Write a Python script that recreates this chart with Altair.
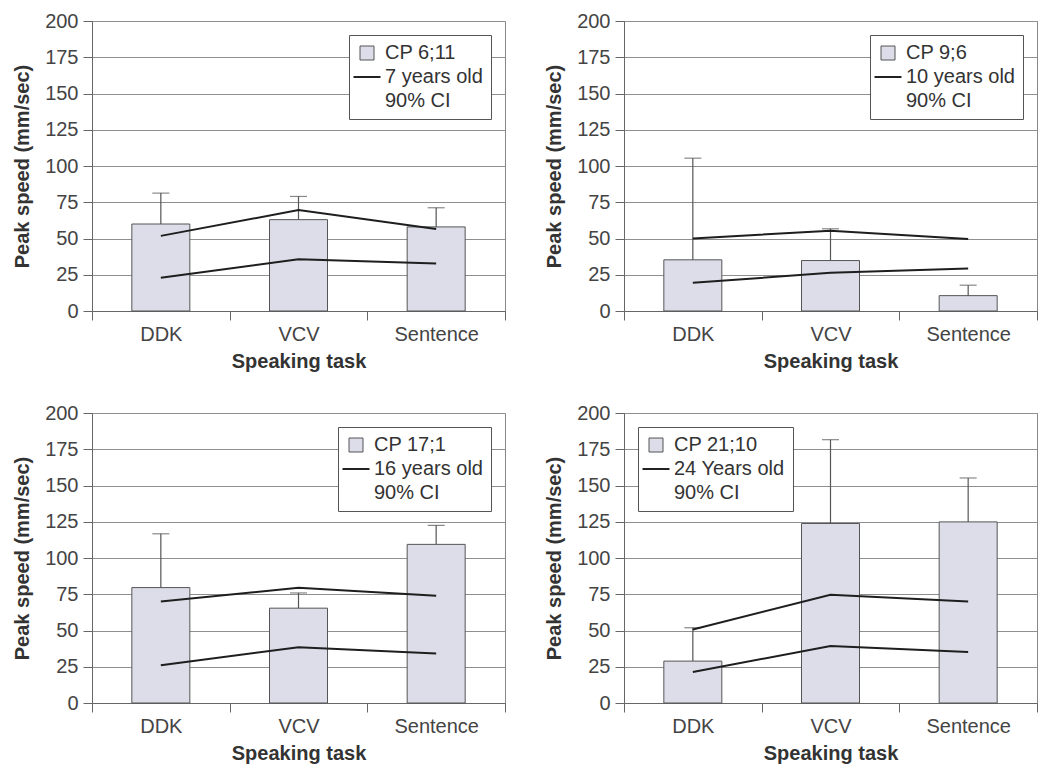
import altair as alt
import pandas as pd

tasks = ["DDK", "VCV", "Sentence"]
cp_labels = ["CP 6;11", "CP 9;6", "CP 17;1", "CP 21;10"]
age_labels = ["7 years old", "10 years old", "16 years old", "24 Years old"]
ci_label = "90% CI"
bar_vals = [[60, 63, 58], [35.3, 34.8, 10.6], [79.6, 65.4, 109.4], [28.9, 123.8, 124.9]]
err_tops = [[81.3, 79, 71.2], [105.4, 56.7, 17.8], [116.7, 75.9, 122.5], [51.9, 181.6, 155.2]]
ci_upper = [[51.8, 69.6, 56.5], [50, 55.4, 49.6], [70, 79.4, 73.9], [50.7, 74.6, 70]]
ci_lower = [[23, 35.7, 32.7], [19.4, 26.3, 29.3], [26.1, 38.5, 34.2], [21.4, 39.3, 35.1]]
legend_orient = ["top-right", "top-right", "top-right", "top-left"]
y_ticks = [0, 25, 50, 75, 100, 125, 150, 175, 200]

FONT = "Liberation Sans"
BAR_FILL = "#dcdde9"


def panel(i):
    cp = cp_labels[i]
    age = age_labels[i]
    bars = pd.DataFrame({"task": tasks, "value": bar_vals[i], "err": err_tops[i], "series": [cp] * 3})
    lines = pd.DataFrame({
        "task": tasks * 2,
        "value": ci_upper[i] + ci_lower[i],
        "bound": ["upper"] * 3 + ["lower"] * 3,
    })
    x_axis = alt.Axis(title="Speaking task", labelAngle=0, tickBand="extent",
                      tickSize=9, labelPadding=4, titlePadding=7)
    x_scale = alt.Scale(paddingInner=0, paddingOuter=0)
    y_axis = alt.Axis(title="Peak speed (mm/sec)", values=y_ticks, tickSize=9,
                      labelPadding=5, titlePadding=12, grid=True, labelOverlap=False)
    y_scale = alt.Scale(domain=[0, 200], nice=False)

    def X():
        return alt.X("task:N", sort=tasks, scale=x_scale, axis=x_axis)

    def Y(field):
        return alt.Y(field, scale=y_scale, axis=y_axis)

    is_cp = f"datum.value === '{cp}'"
    legend = alt.Legend(
        title=None, orient=legend_orient[i], offset=14, padding=8,
        strokeColor="#555", fillColor="white", labelFontSize=20, labelColor="#333",
        labelFont=FONT, rowPadding=4, labelOffset=8,
        symbolType=alt.ExprRef(expr=f"{is_cp} ? 'square' : 'stroke'"),
        symbolSize=alt.ExprRef(expr=f"{is_cp} ? 196 : 729"),
        symbolStrokeWidth=alt.ExprRef(expr=f"{is_cp} ? 1 : 2"),
        symbolOpacity=alt.ExprRef(expr=f"datum.value === '{ci_label}' ? 0 : 1"),
    )
    dom = [cp, age, ci_label]
    bar = alt.Chart(bars).mark_bar(strokeWidth=1, size=58).encode(
        x=X(), y=Y("value:Q"),
        color=alt.Color("series:N", scale=alt.Scale(domain=dom, range=[BAR_FILL, "#222", "white"]),
                        legend=legend),
        stroke=alt.Stroke("series:N", scale=alt.Scale(domain=dom, range=["#555", "#222", "white"]),
                          legend=legend),
    )
    rule = alt.Chart(bars).mark_rule(color="#555", strokeWidth=1.2).encode(
        x=X(), y=Y("value:Q"), y2="err:Q")
    cap = alt.Chart(bars).mark_tick(color="#555", thickness=1.2, size=17, orient="horizontal").encode(
        x=X(), y=Y("err:Q"))
    line = alt.Chart(lines).mark_line(color="#1e1e1e", strokeWidth=2).encode(
        x=X(), y=Y("value:Q"), detail="bound:N")
    return alt.layer(bar, rule, cap, line).properties(width=413, height=290)


def row(a, b):
    return alt.hconcat(panel(a), panel(b), spacing=38).resolve_scale(
        color="independent", stroke="independent"
    ).resolve_legend(color="independent", stroke="independent")


chart = alt.vconcat(row(0, 1), row(2, 3), spacing=30).resolve_scale(
    color="independent", stroke="independent"
).resolve_legend(
    color="independent", stroke="independent"
).properties(
    padding={"left": 4, "top": 2, "right": 2, "bottom": 2},
    background="white",
).configure_axis(
    labelFont=FONT, titleFont=FONT, labelFontSize=20, titleFontSize=20,
    labelColor="#444", titleColor="#333", titleFontWeight="bold",
    domainColor="#666", tickColor="#666", gridColor="#8f8f8f", gridWidth=1,
).configure_view(stroke="#888", strokeWidth=1)

chart.save("out.html", embed_options={"renderer": "svg", "actions": False})
